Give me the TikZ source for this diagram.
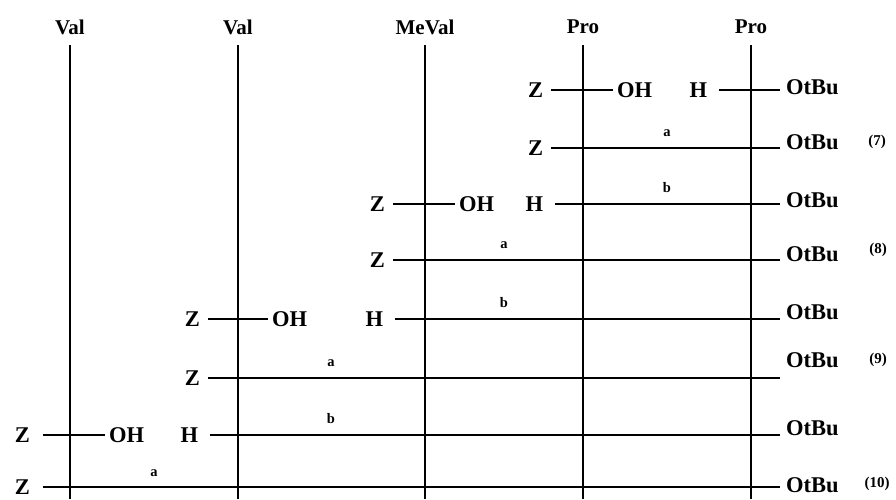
\documentclass[tikz,border=0pt]{standalone}
\usepackage{fontspec}
\setmainfont{Liberation Serif}
\tikzset{
  lbl/.style={font=\fontsize{22.5}{24}\selectfont\bfseries, inner sep=0pt},
  zlbl/.style={lbl, anchor=east, outer xsep=8pt},
  ohlbl/.style={lbl, anchor=west, outer xsep=4pt},
  hlbl/.style={lbl, anchor=east, outer xsep=12pt},
  endlbl/.style={lbl, anchor=west, outer xsep=6pt},
  head/.style={font=\fontsize{21}{22}\selectfont\bfseries, inner sep=0pt, outer ysep=11pt},
  rlbl/.style={font=\fontsize{14.5}{15}\selectfont\bfseries, inner sep=0pt, anchor=base},
  cpd/.style={font=\fontsize{15}{16}\selectfont\bfseries, inner sep=0pt},
  chain/.style={line width=2pt},
  bond/.style={line width=1.5pt},
}
\begin{document}
\begin{tikzpicture}[x=1pt, y=-1pt]
\useasboundingbox (0,0) rectangle (896,499);
\coordinate (bot) at (0,499);

% residue columns
\node[head] (c1) at (70,27)  {Val};
\node[head] (c2) at (238,27) {Val};
\node[head] (c3) at (425,27) {MeVal};
\node[head] (c4) at (583,27) {Pro};
\node[head] (c5) at (751,27) {Pro};
\foreach \c in {c1,c2,c3,c4,c5}
  \draw[chain] (\c.south) -- (\c.south |- bot);

% step 1: Z-Pro-OH + H-Pro-OtBu
\node[zlbl]   (z1)  at (551,90)  {Z};
\node[ohlbl]  (oh1) at (613,90)  {OH};
\node[hlbl]   (h1)  at (719,90)  {H};
\node[endlbl] (o1)  at (780,87)  {OtBu};
\draw[bond] (z1.east) -- (oh1.west);
\draw[bond] (h1.east) -- (h1.east -| o1.west);

\node[rlbl] (a1) at (667,136) {a};
\node[zlbl]   (z2)  at (551,148) {Z};
\node[endlbl] (o2)  at (780,142) {OtBu};
\node[cpd]    (n7)  at (877,142) {(7)};
\draw[bond] (z2.east) -- (z2.east -| o2.west);

% step 2: Z-MeVal-OH + H-Pro-Pro-OtBu
\node[rlbl] (b1) at (667,192) {b};
\node[zlbl]   (z3)  at (393,204) {Z};
\node[ohlbl]  (oh3) at (455,204) {OH};
\node[hlbl]   (h3)  at (555,204) {H};
\node[endlbl] (o3)  at (780,200) {OtBu};
\draw[bond] (z3.east) -- (oh3.west);
\draw[bond] (h3.east) -- (h3.east -| o3.west);

\node[rlbl] (a2) at (504,248) {a};
\node[zlbl]   (z4)  at (393,260) {Z};
\node[endlbl] (o4)  at (780,254) {OtBu};
\node[cpd]    (n8)  at (878,250) {(8)};
\draw[bond] (z4.east) -- (z4.east -| o4.west);

% step 3: Z-Val-OH + H-MeVal-Pro-Pro-OtBu
\node[rlbl] (b2) at (504,307) {b};
\node[zlbl]   (z5)  at (208,319) {Z};
\node[ohlbl]  (oh5) at (268,319) {OH};
\node[hlbl]   (h5)  at (395,319) {H};
\node[endlbl] (o5)  at (780,312) {OtBu};
\draw[bond] (z5.east) -- (oh5.west);
\draw[bond] (h5.east) -- (h5.east -| o5.west);

\node[rlbl] (a3) at (331,366) {a};
\node[zlbl]   (z6)  at (208,378) {Z};
\node[endlbl] (o6)  at (780,360) {OtBu};
\node[cpd]    (n9)  at (878,360) {(9)};
\draw[bond] (z6.east) -- (z6.east -| o6.west);

% step 4: Z-Val-OH + H-Val-MeVal-Pro-Pro-OtBu
\node[rlbl] (b3) at (331,423) {b};
\node[zlbl, outer xsep=13pt] (z7) at (43,435) {Z};
\node[ohlbl]  (oh7) at (105,435) {OH};
\node[hlbl]   (h7)  at (210,435) {H};
\node[endlbl] (o7)  at (780,428) {OtBu};
\draw[bond] (z7.east) -- (oh7.west);
\draw[bond] (h7.east) -- (h7.east -| o7.west);

\node[rlbl] (a4) at (154,476) {a};
\node[zlbl, outer xsep=13pt] (z8) at (43,487) {Z};
\node[endlbl] (o8)  at (780,485) {OtBu};
\node[cpd]    (n10) at (877,484) {(10)};
\draw[bond] (z8.east) -- (z8.east -| o8.west);
\end{tikzpicture}
\end{document}
